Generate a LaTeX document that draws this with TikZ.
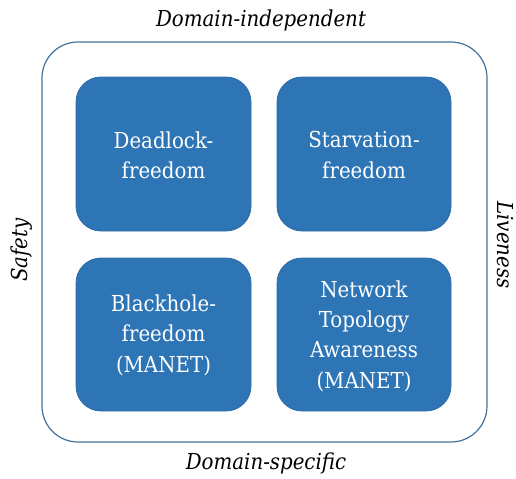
\documentclass[tikz,border=0pt]{standalone}
\usepackage{fontspec}
\setmainfont{DejaVu Serif Condensed}
\definecolor{boxblue}{HTML}{2E75B6}
\definecolor{boxedge}{HTML}{2E6BA8}
\definecolor{outeredge}{HTML}{41719C}
\begin{document}
\begin{tikzpicture}[x=0.75pt,y=-0.75pt,
  prop/.style={draw=boxedge,fill=boxblue,rounded corners=18.75pt,line width=0.6pt},
  proptext/.style={text=white,align=center,font=\rmfamily\fontsize{16.5pt}{22.8pt}\selectfont},
  side/.style={font=\rmfamily\fontsize{16.5pt}{22pt}\selectfont\itshape}]
\useasboundingbox (0,0) rectangle (516,478);
\draw[draw=outeredge,line width=0.9pt,rounded corners=27pt] (42,42) rectangle (487,442);
\draw[prop] (76,77) rectangle (251,231);
\draw[prop] (277,77) rectangle (451,231);
\draw[prop] (76,258) rectangle (251,411);
\draw[prop] (277,258) rectangle (451,411);
\node[proptext] (dl) at (163.5,155) {Deadlock-\\freedom};
\node[proptext] (sf) at (364,155) {Starvation-\\freedom};
\node[proptext] (bh) at (163.5,335) {Blackhole-\\freedom\\(MANET)};
\node[proptext] (nt) at (364,336) {Network\\Topology\\Awareness\\(MANET)};
\node[side] (di) at (261,20) {Domain-independent};
\node[side] (ds) at (266,463) {Domain-specific};
\node[side,rotate=90] (sa) at (22,250) {Safety};
\node[side,rotate=-90] (li) at (505,245) {Liveness};
\end{tikzpicture}
\end{document}
